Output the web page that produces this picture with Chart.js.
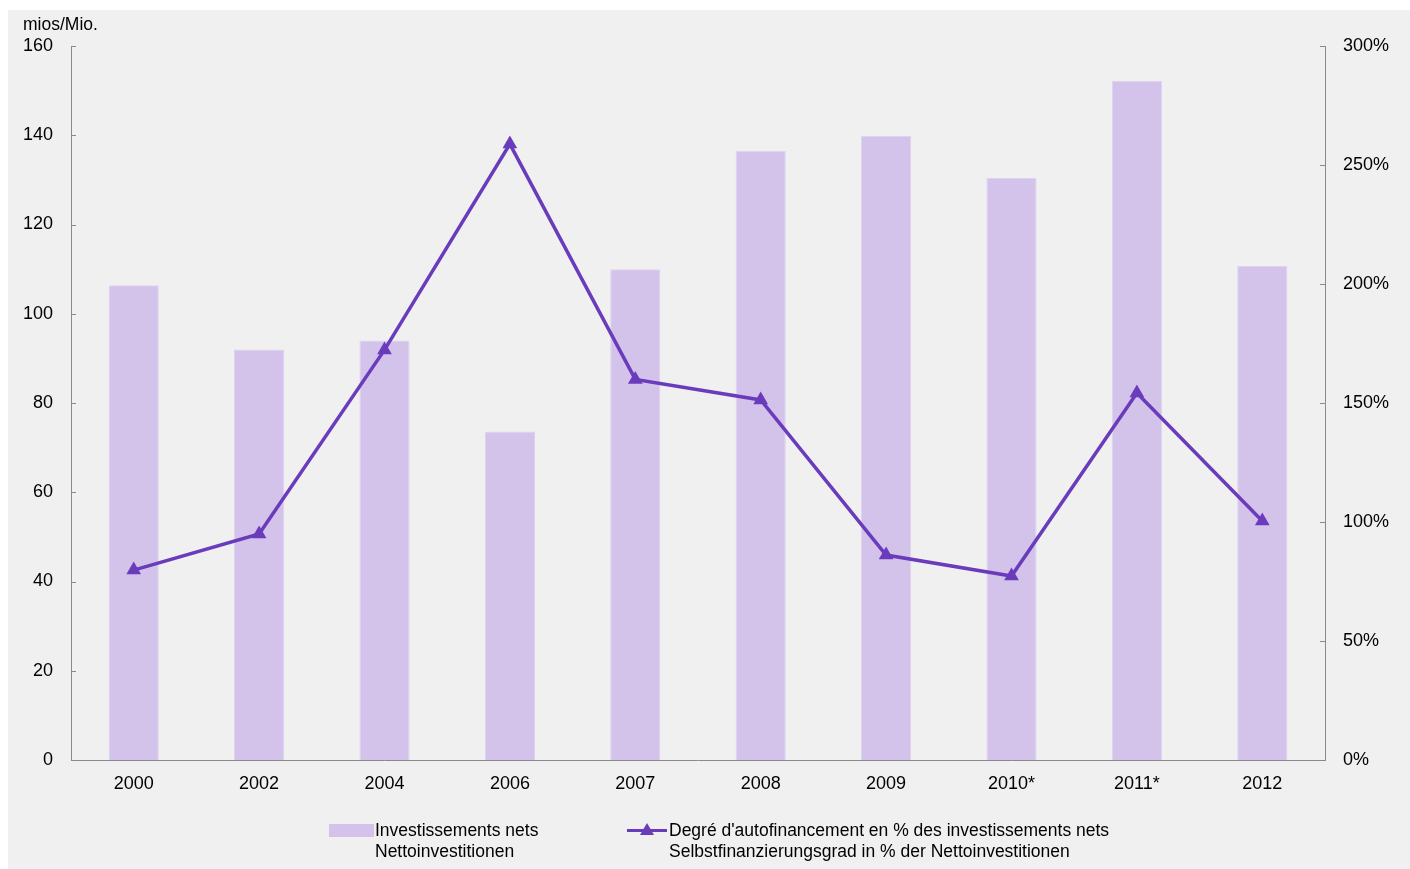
<!DOCTYPE html>
<html>
<head>
<meta charset="utf-8">
<script src="https://cdn.jsdelivr.net/npm/chart.js@4/dist/chart.umd.min.js"></script>
<style>
  html, body { margin: 0; padding: 0; background: #ffffff; }
  body { width: 1410px; height: 869px; position: relative; overflow: hidden;
         font-family: "Liberation Sans", Arial, sans-serif; }
  #panel { position: absolute; left: 8px; top: 10px; right: 0; bottom: 0; background: #f0f0f0; }
  #wrap { position: absolute; left: 0; top: 0; width: 1410px; height: 869px; }
  #unit { position: absolute; left: 23px; top: 14px; font-size: 17.5px; color: #000; }
  .leg { position: absolute; font-size: 17.5px; line-height: 21px; color: #000; }
  .sw-bar { position: absolute; width: 45px; height: 13px; background: #d3c3eb; }
  .sw-line { position: absolute; width: 40px; height: 3px; background: #6a3cbc; }
  .sw-tri { position: absolute; width: 0; height: 0;
            border-left: 7px solid transparent; border-right: 7px solid transparent;
            border-bottom: 12px solid #6a3cbc; }
</style>
</head>
<body>
<div id="panel"></div>
<div id="wrap"><canvas id="chart" width="1410" height="869"></canvas></div>
<div id="unit">mios/Mio.</div>

<div class="sw-bar" style="left:329px; top:824px;"></div>
<div class="leg" style="left:375px; top:820px;">Investissements nets<br>Nettoinvestitionen</div>

<div class="sw-line" style="left:627px; top:829px;"></div>
<div class="sw-tri" style="left:640px; top:823px;"></div>
<div class="leg" style="left:669px; top:820px;">Degré d'autofinancement en % des investissements nets<br>Selbstfinanzierungsgrad in % der Nettoinvestitionen</div>

<script>
// Years shown on the category axis
const years = ['2000', '2002', '2004', '2006', '2007', '2008', '2009', '2010*', '2011*', '2012'];
// Net investments, in millions
const netInvestments = [106.4, 92.0, 94.0, 73.6, 110.0, 136.5, 139.9, 130.4, 152.2, 110.7];
// Self-financing ratio, in % of net investments
const selfFinancing = [79.8, 95.0, 172.3, 258.8, 159.9, 151.3, 86.1, 77.3, 154.2, 100.4];
// Axis ranges
const leftMax = 160, leftStep = 20;
const rightMax = 300, rightStep = 50;

const FONT = { family: '"Liberation Sans", Arial, sans-serif', size: 18 };
const AXIS = '#8a8a8a';

// Short tick marks pointing into the plot on both value axes
const innerTicks = {
  id: 'innerTicks',
  afterDatasetsDraw(chart) {
    const ctx = chart.ctx;
    ctx.save();
    ctx.strokeStyle = AXIS;
    ctx.lineWidth = 1;
    const l = chart.scales.y, r = chart.scales.y1;
    l.ticks.forEach(t => {
      const y = Math.round(l.getPixelForValue(t.value)) + 0.5;
      ctx.beginPath(); ctx.moveTo(l.right, y); ctx.lineTo(l.right + 5, y); ctx.stroke();
    });
    r.ticks.forEach(t => {
      const y = Math.round(r.getPixelForValue(t.value)) + 0.5;
      ctx.beginPath(); ctx.moveTo(r.left, y); ctx.lineTo(r.left - 5, y); ctx.stroke();
    });
    ctx.restore();
  }
};

new Chart(document.getElementById('chart'), {
  data: {
    labels: years,
    datasets: [
      {
        type: 'line',
        label: "Degré d'autofinancement en % des investissements nets",
        data: selfFinancing,
        yAxisID: 'y1',
        borderColor: '#6a3cbc',
        backgroundColor: '#6a3cbc',
        borderWidth: 3.5,
        pointStyle: 'triangle',
        pointRadius: 8.5,
        pointBorderWidth: 0,
        tension: 0,
        order: 0
      },
      {
        type: 'bar',
        label: 'Investissements nets',
        data: netInvestments,
        yAxisID: 'y',
        backgroundColor: '#d3c3eb',
        borderColor: '#ddd2f0',
        borderWidth: 1,
        categoryPercentage: 0.8,
        barPercentage: 0.5,
        order: 1
      }
    ]
  },
  options: {
    responsive: false,
    animation: false,
    layout: { padding: { top: 46, left: 0, right: 0, bottom: 0 } },
    plugins: { legend: { display: false }, tooltip: { enabled: false } },
    scales: {
      x: {
        type: 'category',
        grid: { display: false, drawTicks: false },
        border: { display: true, color: AXIS, width: 1 },
        ticks: { color: '#000', font: FONT, padding: 13, maxRotation: 0 },
        afterFit(s) { s.height = 109; }
      },
      y: {
        position: 'left',
        min: 0, max: leftMax,
        grid: { display: false, drawTicks: false },
        border: { display: true, color: AXIS, width: 1 },
        ticks: { stepSize: leftStep, color: '#000', font: FONT, padding: 18 },
        afterFit(s) { s.width = 71; }
      },
      y1: {
        position: 'right',
        min: 0, max: rightMax,
        grid: { display: false, drawTicks: false },
        border: { display: true, color: AXIS, width: 1 },
        ticks: { stepSize: rightStep, color: '#000', font: FONT, padding: 18,
                 callback: v => v + '%' },
        afterFit(s) { s.width = 85; }
      }
    }
  },
  plugins: [innerTicks]
});
</script>
</body>
</html>
